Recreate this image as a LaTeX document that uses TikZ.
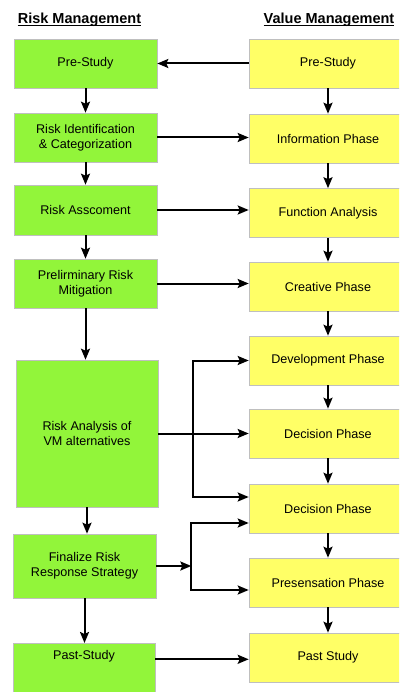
\documentclass[tikz,border=0pt]{standalone}
\usepackage{fontspec}
\setmainfont{Liberation Sans}
\usetikzlibrary{arrows.meta}
\definecolor{rmgreen}{RGB}{146,245,58}
\definecolor{vmyellow}{RGB}{255,255,102}
\tikzset{>={Stealth[length=11pt,width=9pt,inset=2pt]}}
\tikzset{
  rmbox/.style={draw=black!25, fill=rmgreen, line width=0.6pt, minimum width=143pt,
    minimum height=49pt, align=center, inner sep=0pt, font=\fontsize{12.6}{15}\selectfont},
  vmbox/.style={rmbox, fill=vmyellow, minimum width=158pt},
  head/.style={inner sep=0pt, font=\fontsize{14.5}{17}\selectfont\bfseries},
  flow/.style={->, line width=2pt}
}

\begin{document}
\begin{tikzpicture}[x=1pt,y=-1pt]
\clip (0,0) rectangle (399,692);
% headings
\node[head, anchor=base] (hrisk) at (79.5,23.5) {Risk Management};
\node[head, anchor=base] (hvalue) at (329,23.5) {Value Management};
\draw [line width=1pt] ([yshift=-2pt]hrisk.base west) -- ([yshift=-2pt]hrisk.base east);
\draw [line width=1pt] ([yshift=-2pt]hvalue.base west) -- ([yshift=-2pt]hvalue.base east);
% risk management
\node[rmbox] (lpre) at (85.5,63.5) {Pre-Study};
\node[rmbox] (lident) at (85.5,137.5) {Risk Identification\\\& Categorization};
\node[rmbox, minimum height=50pt] (lasses) at (85.5,210) {Risk Asscoment};
\node[rmbox] (lmitig) at (85.5,283.5) {Prelirminary Risk\\Mitigation};
\node[rmbox, minimum width=142pt, minimum height=147pt] (lanal) at (87,433.5) {Risk Analysis of\\VM alternatives};
\node[rmbox, minimum height=64pt] (lfinal) at (84.5,566) {Finalize Risk\\Response Strategy};
\node[rmbox, minimum width=142pt, minimum height=0pt, anchor=north, text height=16pt, text depth=45pt] (lpast) at (84,643) {Past-Study};
% value management
\node[vmbox] (rpre) at (328,63.5) {Pre-Study};
\node[vmbox] (rinfo) at (328,138.5) {Information Phase};
\node[vmbox] (rfunc) at (328,213) {Function Analysis};
\node[vmbox] (rcreat) at (328,286.5) {Creative Phase};
\node[vmbox] (rdev) at (328,360.5) {Development Phase};
\node[vmbox] (rdec) at (328,433.5) {Decision Phase};
\node[vmbox] (rdecb) at (328,508.5) {Decision Phase};
\node[vmbox] (rpres) at (328,582.5) {Presensation Phase};
\node[vmbox] (rpast) at (328,657.5) {Past Study};
% downward arrows
\foreach \a/\b in {lpre/lident,lident/lasses,lasses/lmitig,lmitig/lanal,lanal/lfinal,lfinal/lpast}
  \draw [flow] (\a.south) -- (\a.south |- \b.north);
\foreach \a/\b in {rpre/rinfo,rinfo/rfunc,rfunc/rcreat,rcreat/rdev,rdev/rdec,rdec/rdecb,rdecb/rpres,rpres/rpast}
  \draw [flow] (\a.south) -- (\a.south |- \b.north);
% across
\draw [flow] (rpre.west) -- (lpre.east);
\draw [flow] (lident.east) -- (lident.east -| rinfo.west);
\draw [flow] (lasses.east) -- (lasses.east -| rfunc.west);
\draw [flow] (lmitig.east) -- (lmitig.east -| rcreat.west);
\draw [flow] (lanal.east) -- (lanal.east -| rdec.west);
\coordinate (fka) at ([xshift=35pt]lanal.east);
\draw [flow] (fka) |- (rdev.west);
\draw [flow] (fka) |- ([yshift=11.5pt]rdecb.west);
\coordinate (fkb) at ([xshift=35pt]lfinal.east);
\draw [flow] (lfinal.east) -- (fkb);
\draw [flow] (fkb) |- ([yshift=-14.5pt]rdecb.west);
\draw [flow] (fkb) |- ([yshift=-7.5pt]rpres.west);
\draw [flow] (lpast.base east) -- (lpast.base east -| rpast.west);
\end{tikzpicture}
\end{document}
